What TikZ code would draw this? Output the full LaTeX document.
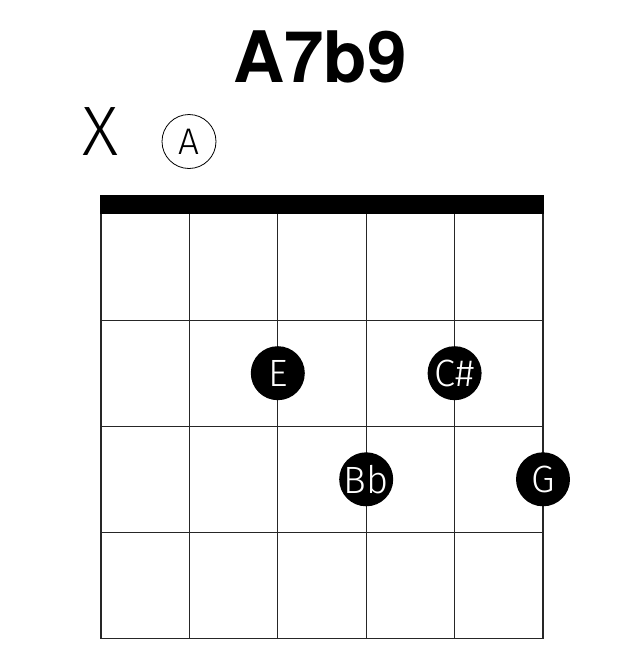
\documentclass[tikz,border=0pt]{standalone}
\usepackage{fontspec}
\setmainfont{TeX Gyre Heros}
\newfontfamily\lightfont{Fira Sans Light}
\usetikzlibrary{calc}

\begin{document}
\begin{tikzpicture}[x=1pt,y=-1pt]
        \tikzset{note/.style = {shape=circle,fill=black,text=white,minimum size=54pt,inner sep=0pt,font=\lightfont\fontsize{38}{38}\selectfont}}
        \tikzset{openstr/.style = {shape=circle,draw,line width=0.8pt,minimum size=54pt,inner sep=0pt,font=\lightfont\fontsize{37}{37}\selectfont}}
        \tikzset{gridline/.style = {draw=black!85,line width=1.1pt}}

        \useasboundingbox (0,0) rectangle (644,656);

        % title and string marks
        \node[anchor=base,font=\fontsize{71}{71}\selectfont\bfseries] (title) at (320,82) {A7b9};
        \node[anchor=base,font=\lightfont\fontsize{70}{70}\selectfont] (mute) at (100,155) {X};
        \node[openstr] (open) at (189,141.5) {A};

        % grid points
        \foreach \s in {0,...,5}
            {
            \coordinate (t\s) at (101+88.4*\s,214);
            \coordinate (b\s) at (101+88.4*\s,638.5);
            }
        \foreach \f in {1,...,4}
            {
            \coordinate (l\f) at (101,214+106.1*\f);
            \coordinate (r\f) at (543,214+106.1*\f);
            }

        % nut
        \fill (100,195) rectangle (544,214);

        % strings and frets
        \foreach \s in {0,...,5}
            \draw[gridline] (t\s) -- (b\s);
        \foreach \f in {1,...,4}
            \draw[gridline] (l\f) -- (r\f);

        % notes
        \node[note] (e) at ($(t2)!0.375!(b2)$) {E};
        \node[note] (cs) at ($(t4)!0.375!(b4)$) {C\#};
        \node[note] (bb) at ($(t3)!0.625!(b3)$) {Bb};
        \node[note] (g) at ($(t5)!0.625!(b5)$) {G};

    \end{tikzpicture}
\end{document}
